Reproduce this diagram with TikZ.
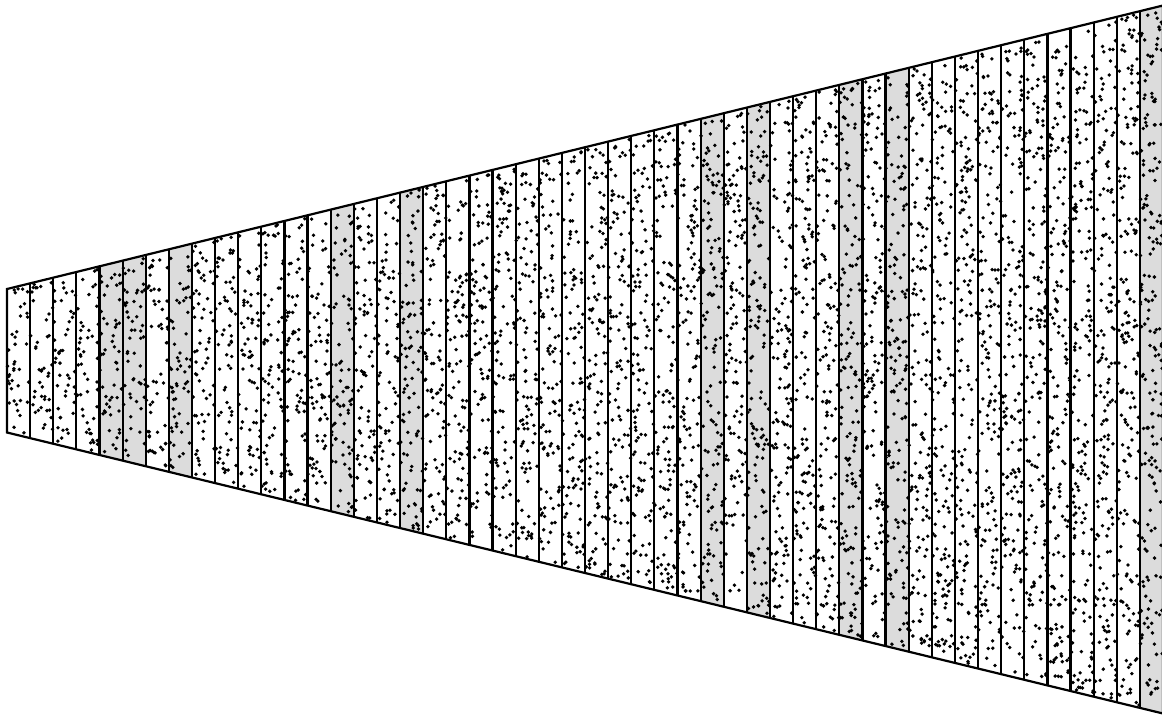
\documentclass[tikz,border=0pt]{standalone}
\definecolor{stripgray}{RGB}{220,220,220}
\begin{document}
\begin{tikzpicture}[x=1pt,y=-1pt,
  edge/.style={line width=2.2pt, line join=miter, line cap=butt},
  dotstyle/.style={fill=black}]
\useasboundingbox (0,0) rectangle (1162,715);
\pgfmathsetseed{4242}
% shaded strips
\foreach \i in {4,5,7,14,17,30,32,36,38,49} {
  \pgfmathsetmacro\xa{7+\i*23.12}
  \pgfmathsetmacro\xb{\xa+23.12}
  \pgfmathsetmacro\ta{289-(\xa-7)*0.245242}
  \pgfmathsetmacro\tb{289-(\xb-7)*0.245242}
  \pgfmathsetmacro\ba{432.5+(\xa-7)*0.24308}
  \pgfmathsetmacro\bb{432.5+(\xb-7)*0.24308}
  \fill[stripgray] (\xa,\ta) -- (\xb,\tb) -- (\xb,\bb) -- (\xa,\ba) -- cycle;
}
% dividing lines
\foreach \i in {1,...,49} {
  \pgfmathsetmacro\xa{7+\i*23.12}
  \pgfmathsetmacro\ta{289-(\xa-7)*0.245242}
  \pgfmathsetmacro\ba{432.5+(\xa-7)*0.24308}
  \draw[edge] (\xa,\ta) -- (\xa,\ba);
}
% outline
\draw[edge] (7,289) -- (1163,5.5) -- (1163,713.5) -- (7,432.5) -- cycle;
% random dots
\foreach \i in {0,...,49} {
  \pgfmathsetmacro\xa{7+\i*23.12}
  \pgfmathsetmacro\hm{143.5+(\xa+11.56-7)*0.488322}
  \pgfmathtruncatemacro\n{0.0115*23.12*\hm}
  \foreach \k in {1,...,\n} {
    \pgfmathsetmacro\px{\xa+0.5+rnd*22.1}
    \pgfmathsetmacro\tt{289-(\px-7)*0.245242}
    \pgfmathsetmacro\bt{432.5+(\px-7)*0.24308}
    \pgfmathsetmacro\py{\tt+2+rnd*(\bt-\tt-4)}
    \fill[dotstyle] (\px,\py) circle[radius=1.9];
  }
}
\end{tikzpicture}
\end{document}
